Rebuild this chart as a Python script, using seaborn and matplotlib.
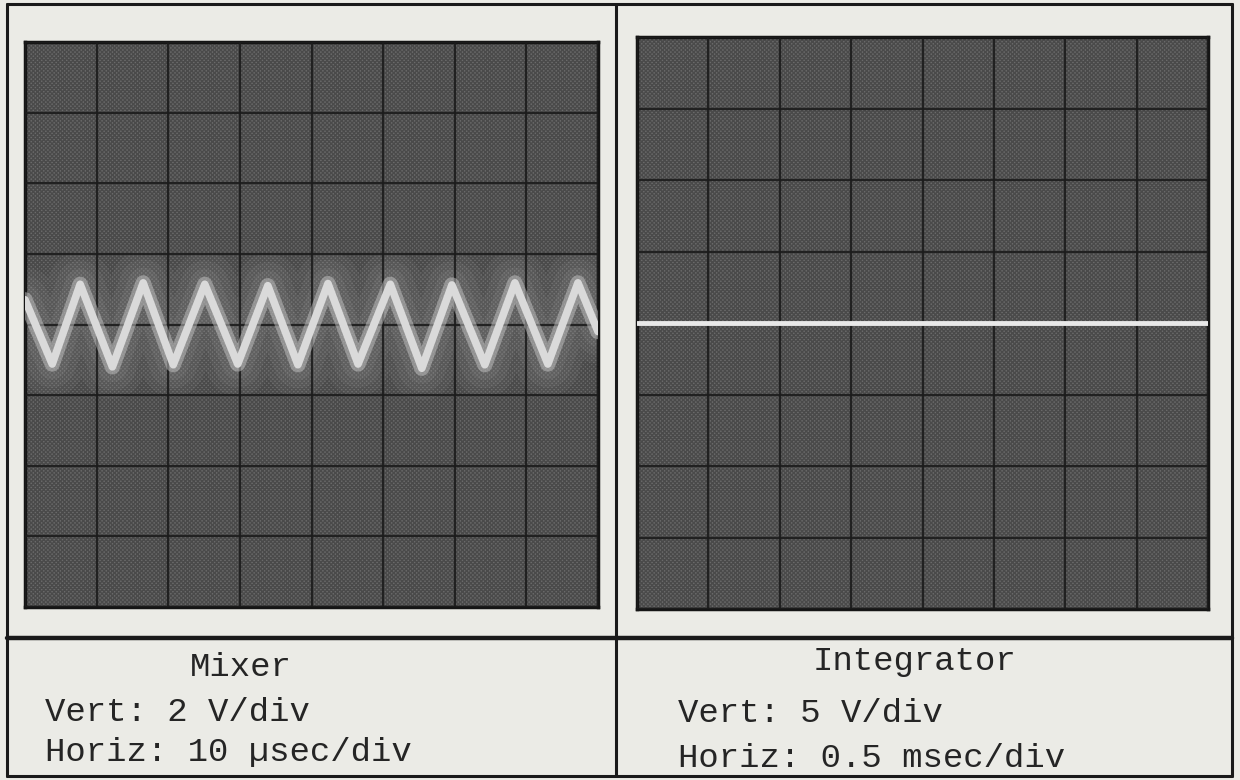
import matplotlib
matplotlib.use("Agg")
import matplotlib.pyplot as plt
import seaborn as sns
import pandas as pd
from matplotlib.lines import Line2D
from matplotlib.patches import Rectangle

# --- data (x in divisions from left edge,
#     y in divisions from the centre graticule line) ---
mixer_t = [0.00, 0.38, 0.77, 1.22, 1.65, 2.07, 2.51, 2.97, 3.39, 3.81,
           4.23, 4.65, 5.10, 5.54, 5.96, 6.42, 6.84, 7.30, 7.72, 8.00]
mixer_v = [0.35, -0.56, 0.57, -0.60, 0.59, -0.57, 0.57, -0.56, 0.55, -0.57,
           0.58, -0.56, 0.57, -0.62, 0.56, -0.57, 0.59, -0.56, 0.59, -0.10]

integ_t = [0.0, 2.0, 4.0, 6.0, 8.0]
integ_v = [0.0, 0.0, 0.0, 0.0, 0.0]

titles = ["Mixer", "Integrator"]
vert_labels = ["Vert: 2 V/div", "Vert: 5 V/div"]
horiz_labels = ["Horiz: 10 \u00b5sec/div", "Horiz: 0.5 msec/div"]

# --- style ---
W, H = 1240, 780
PAPER = "#ebebe6"
SCREEN = "#6a6a6a"
GRID = "#1c1c1c"
TRACE = "#dadada"
INK = "#252525"

sns.set_theme(style="white")
plt.rcParams["font.family"] = ["Liberation Mono", "DejaVu Sans Mono"]
plt.rcParams["hatch.linewidth"] = 1.0

fig = plt.figure(figsize=(W / 100, H / 100), dpi=100)
fig.patch.set_facecolor(PAPER)


def px_axes(x0, y0, x1, y1):
    """Axes placed by pixel box (top-left origin)."""
    return fig.add_axes([x0 / W, 1 - y1 / H, (x1 - x0) / W, (y1 - y0) / H])


def scope(ax):
    ax.set_facecolor(SCREEN)
    # halftone look of the scanned photo
    ax.add_patch(Rectangle((0, 0), 1, 1, transform=ax.transAxes,
                           facecolor="none", edgecolor="#4a4a4a",
                           hatch="xxxxxxxx", linewidth=0, zorder=0.5))
    ax.set_xlim(0, 8)
    ax.set_ylim(-4, 4)
    ax.set_xticks(range(0, 9))
    ax.set_yticks(range(-4, 5))
    ax.set_axisbelow(False)
    ax.grid(True, color=GRID, linewidth=1.6, alpha=0.9, zorder=1)
    ax.tick_params(length=0, labelbottom=False, labelleft=False)
    for s in ax.spines.values():
        s.set_color("#151515")
        s.set_linewidth(2.5)


ax_l = px_axes(25, 42, 598, 607)
ax_r = px_axes(637, 37, 1208, 609)
scope(ax_l)
scope(ax_r)

mixer = pd.DataFrame({"t": mixer_t, "v": mixer_v})
integ = pd.DataFrame({"t": integ_t, "v": integ_v})

# soft glow around the mixer trace, then the trace itself
for lw, a in [(46, 0.07), (34, 0.08), (22, 0.10)]:
    sns.lineplot(data=mixer, x="t", y="v", ax=ax_l, color="#b0b0b0",
                 linewidth=lw, alpha=a, solid_joinstyle="round",
                 legend=False, zorder=2)
sns.lineplot(data=mixer, x="t", y="v", ax=ax_l, color="#c4c4c4", linewidth=11,
             alpha=0.5, solid_joinstyle="round", legend=False, zorder=3)
sns.lineplot(data=mixer, x="t", y="v", ax=ax_l, color=TRACE, linewidth=5.5,
             solid_joinstyle="round", solid_capstyle="round", legend=False,
             zorder=4)
sns.lineplot(data=integ, x="t", y="v", ax=ax_r, color="#e8e8e8", linewidth=3.5,
             legend=False, zorder=4)
for ax in (ax_l, ax_r):
    ax.set_xlabel("")
    ax.set_ylabel("")

# --- table frame ---
frame = dict(color="#1a1a1a", linewidth=2.2, transform=fig.transFigure)
for (xa, ya, xb, yb) in [(7, 4, 1232, 4), (7, 776, 1232, 776),
                         (7, 4, 7, 776), (1232, 4, 1232, 776),
                         (616, 4, 616, 776)]:
    fig.add_artist(Line2D([xa / W, xb / W], [1 - ya / H, 1 - yb / H], **frame))
fig.add_artist(Line2D([7 / W, 1232 / W], [1 - 638 / H, 1 - 638 / H],
                      color="#1a1a1a", linewidth=3.2, transform=fig.transFigure))

# --- captions ---
fs = 24.5
fig.text(241 / W, 1 - 676 / H, titles[0], ha="center", va="baseline",
         fontsize=fs, color=INK)
fig.text(915 / W, 1 - 670 / H, titles[1], ha="center", va="baseline",
         fontsize=fs, color=INK)
fig.text(45 / W, 1 - 721 / H, vert_labels[0], ha="left", va="baseline",
         fontsize=fs, color=INK)
fig.text(45 / W, 1 - 761 / H, horiz_labels[0], ha="left", va="baseline",
         fontsize=fs, color=INK)
fig.text(678 / W, 1 - 722 / H, vert_labels[1], ha="left", va="baseline",
         fontsize=fs, color=INK)
fig.text(678 / W, 1 - 767 / H, horiz_labels[1], ha="left", va="baseline",
         fontsize=fs, color=INK)

fig.savefig("out.png", dpi=100, facecolor=fig.get_facecolor())
